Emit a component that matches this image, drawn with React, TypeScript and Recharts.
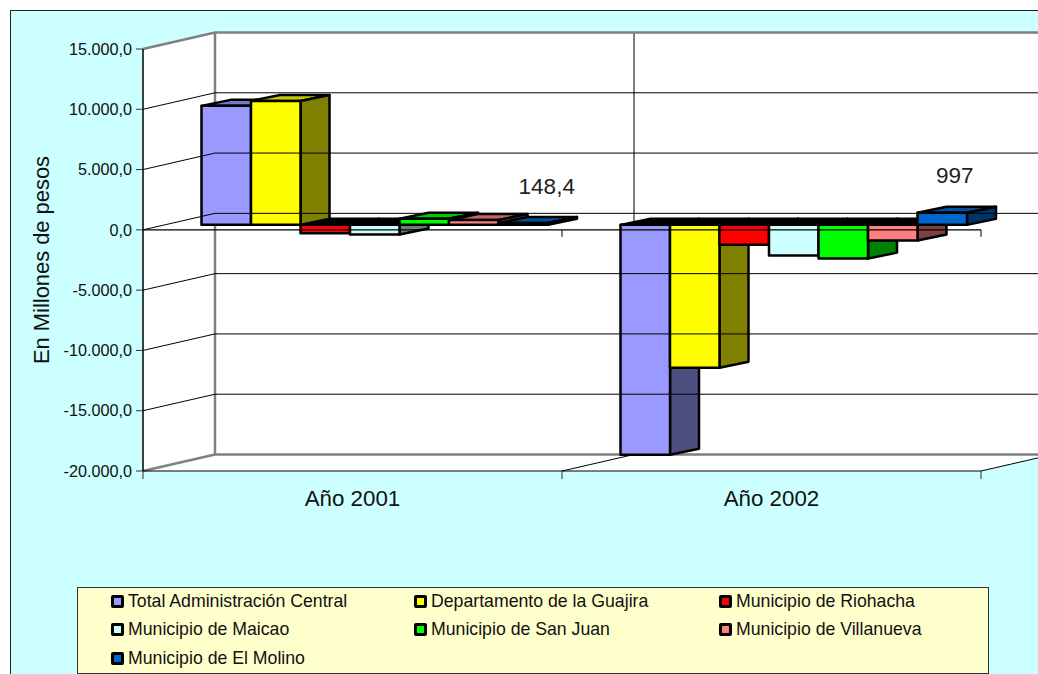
import React from 'react';
import { BarChart, Bar, XAxis, YAxis, Legend, LabelList, ReferenceArea, ReferenceLine } from 'recharts';

const categories = ['Año 2001', 'Año 2002'];
const totalCentral = [9870, -19070];
const guajira = [10280, -11850];
const riohacha = [-700, -1650];
const maicao = [-800, -2550];
const sanJuan = [500, -2800];
const villanueva = [400, -1300];
const elMolino = [148.4, 997];
const molinoLabels = ['148,4', '997'];
const yTicks = [15000, 10000, 5000, 0, -5000, -10000, -15000, -20000];

const seriesNames = [
  'Total Administración Central',
  'Departamento de la Guajira',
  'Municipio de Riohacha',
  'Municipio de Maicao',
  'Municipio de San Juan',
  'Municipio de Villanueva',
  'Municipio de El Molino',
];
const seriesValues = [totalCentral, guajira, riohacha, maicao, sanJuan, villanueva, elMolino];
const seriesColors = ['#9999FF', '#FFFF00', '#FF0000', '#CCFFFF', '#00FF00', '#FF8080', '#0066CC'];

const data = categories.map((name, i) => {
  const row: any = { name };
  seriesNames.forEach((s, j) => {
    row[s] = seriesValues[j][i];
  });
  return row;
});

const FONT = '"Liberation Sans", Arial, sans-serif';
const PLOT_LEFT = 143;
const PLOT_RIGHT = 981;

// 3d projection of the old excel chart
const WALL_DX = 72;
const WALL_DY = -16.5;
const BAR_SHIFT_X = 22.5;
const BAR_SHIFT_Y = -5;
const BAR_DX = 29;
const BAR_DY = -6;

const shade = (hex: string, k: number) => {
  const n = parseInt(hex.slice(1), 16);
  const c = [(n >> 16) & 255, (n >> 8) & 255, n & 255].map(v => Math.round(v * k));
  return `rgb(${c[0]},${c[1]},${c[2]})`;
};

const Bar3D = (props: any) => {
  const { x, y, width, height, fill, value } = props;
  const v = Array.isArray(value) ? value[1] : value;
  const l = x + BAR_SHIFT_X;
  const r = l + width;
  const t = Math.min(y, y + height) + BAR_SHIFT_Y;
  const b = Math.max(y, y + height) + BAR_SHIFT_Y;
  const topFill = v < 0 ? '#000' : shade(fill, 0.78);
  return (
    <g stroke="#000" strokeWidth={2.5} strokeLinejoin="round">
      <polygon points={`${l},${t} ${l + BAR_DX},${t + BAR_DY} ${r + BAR_DX},${t + BAR_DY} ${r},${t}`} fill={topFill} />
      <polygon points={`${r},${t} ${r + BAR_DX},${t + BAR_DY} ${r + BAR_DX},${b + BAR_DY} ${r},${b}`} fill={shade(fill, 0.5)} />
      <rect x={l} y={t} width={width} height={b - t} fill={fill} />
    </g>
  );
};

const WallFrame = (props: any) => {
  const { x, y, width, height } = props;
  const r = x + width;
  const b = y + height;
  const mid = x + width / 2;
  return (
    <g fill="none">
      <polygon
        points={`${x},${y} ${x + WALL_DX},${y + WALL_DY} ${r + WALL_DX},${y + WALL_DY} ${r + WALL_DX},${b + WALL_DY} ${r},${b} ${x},${b}`}
        fill="#fff"
      />
      <line x1={mid + WALL_DX} y1={y + WALL_DY} x2={mid + WALL_DX} y2={b + WALL_DY} stroke="#000" />
      <line x1={mid} y1={b} x2={mid + WALL_DX} y2={b + WALL_DY} stroke="#000" />
      <line x1={r} y1={b} x2={r + WALL_DX} y2={b + WALL_DY} stroke="#000" />
      <polyline
        points={`${x},${y} ${x + WALL_DX},${y + WALL_DY} ${r + WALL_DX},${y + WALL_DY}`}
        stroke="#808080"
        strokeWidth={2.5}
      />
      <polyline
        points={`${x + WALL_DX},${y + WALL_DY} ${x + WALL_DX},${b + WALL_DY} ${r + WALL_DX},${b + WALL_DY}`}
        stroke="#808080"
        strokeWidth={2.5}
      />
      <line x1={x} y1={b} x2={x + WALL_DX} y2={b + WALL_DY} stroke="#808080" strokeWidth={2.5} />
      {[x, mid, r].map(tx => (
        <line key={tx} x1={tx} y1={b} x2={tx} y2={b + 8} stroke="#333" />
      ))}
    </g>
  );
};

const WallGridLine = (props: any) => {
  const { x1, y1, x2 } = props;
  return (
    <polyline
      points={`${x1},${y1} ${x1 + WALL_DX},${y1 + WALL_DY} ${x2 + WALL_DX},${y1 + WALL_DY}`}
      fill="none"
      stroke="#000"
    />
  );
};

// labels are the only thing drawn after the bars, so the zero line goes here:
// the bottom of the (positive) last series is the zero position of the y scale
const MolinoLabel = (props: any) => {
  const { x, y, width, height, index } = props;
  const nudge = index === 0 ? 23.5 : 12.5;
  const zero = y + height;
  const mid = (PLOT_LEFT + PLOT_RIGHT) / 2;
  return (
    <g>
      {index === 0 && (
        <g stroke="#000">
          <line x1={PLOT_LEFT} y1={zero} x2={PLOT_RIGHT} y2={zero} strokeWidth={1.2} />
          <line x1={mid} y1={zero} x2={mid} y2={zero + 7} />
          <line x1={PLOT_RIGHT} y1={zero} x2={PLOT_RIGHT} y2={zero + 7} />
        </g>
      )}
      <text
        x={x + BAR_SHIFT_X + width / 2 + nudge}
        y={zero - (index === 0 ? 36 : 47)}
        textAnchor="middle"
        fontSize={22.5}
        fontFamily={FONT}
        fill="#222"
      >
        {molinoLabels[index]}
      </text>
    </g>
  );
};

const LegendBox = ({ payload }: any) => (
  <div
    style={{
      boxSizing: 'border-box',
      width: 912,
      height: 87,
      background: '#FFFFCC',
      border: '1px solid #333',
      position: 'relative',
      fontFamily: FONT,
      fontSize: 17.7,
      color: '#111',
    }}
  >
    {(payload || []).map((item: any, i: number) => (
      <div
        key={item.value}
        style={{
          position: 'absolute',
          left: [33, 336, 641][i % 3],
          top: 3 + Math.floor(i / 3) * 28.5,
          height: 20,
          display: 'flex',
          alignItems: 'center',
          whiteSpace: 'nowrap',
        }}
      >
        <span
          style={{
            boxSizing: 'border-box',
            width: 13,
            height: 13,
            marginRight: 4,
            border: '3px solid #000',
            borderRadius: 2,
            background: item.color,
          }}
        />
        {item.value}
      </div>
    ))}
  </div>
);

const App = () => {
  return (
    <div style={{ position: 'absolute', left: 0, top: 0, width: 1038, height: 674, overflow: 'hidden', background: '#fff' }}>
      <div
        style={{
          position: 'absolute',
          left: 10,
          top: 10,
          width: 1100,
          height: 760,
          background: '#CCFFFF',
          border: '1.5px solid #222',
        }}
      />
      <BarChart
        width={1038}
        height={674}
        data={data}
        margin={{ top: 49, right: 57, bottom: 173, left: 23 }}
        barSize={49.5}
        barGap={0}
        style={{ position: 'absolute', left: 0, top: 0 }}
      >
        <ReferenceArea y1={-20000} y2={15000} shape={WallFrame} ifOverflow="visible" />
        {yTicks.slice(1, -1).map(t => (
          <ReferenceLine key={t} y={t} shape={WallGridLine} />
        ))}
        <XAxis
          dataKey="name"
          height={30}
          axisLine={{ stroke: '#000' }}
          tickLine={false}
          tick={{ fontSize: 22.3, fontFamily: FONT, fill: '#111' }}
          tickMargin={13}
        />
        <YAxis
          width={120}
          domain={[-20000, 15000]}
          ticks={yTicks}
          interval={0}
          allowDataOverflow
          tickFormatter={(v: number) =>
            v.toLocaleString('de-DE', { minimumFractionDigits: 1, maximumFractionDigits: 1 })
          }
          axisLine={{ stroke: '#000', strokeWidth: 1.5 }}
          tickLine={{ stroke: '#333' }}
          tickSize={7}
          tickMargin={4}
          tick={{ fontSize: 16.2, fontFamily: FONT, fill: '#111' }}
          label={{
            value: 'En Millones de pesos',
            angle: -90,
            position: 'insideLeft',
            offset: 18,
            style: { fontSize: 21.9, fontFamily: FONT, fill: '#111', textAnchor: 'middle' },
          }}
        />
        {seriesNames.map((s, i) => (
          <Bar key={s} dataKey={s} name={s} fill={seriesColors[i]} shape={Bar3D} isAnimationActive={false}>
            {i === seriesNames.length - 1 && <LabelList dataKey={s} content={MolinoLabel} />}
          </Bar>
        ))}
        <Legend
          layout="horizontal"
          verticalAlign="middle"
          align="center"
          itemSorter={null}
          content={LegendBox}
          wrapperStyle={{ position: 'absolute', left: 77, top: 587, width: 912, height: 87 }}
        />
      </BarChart>
    </div>
  );
};

export default App;
